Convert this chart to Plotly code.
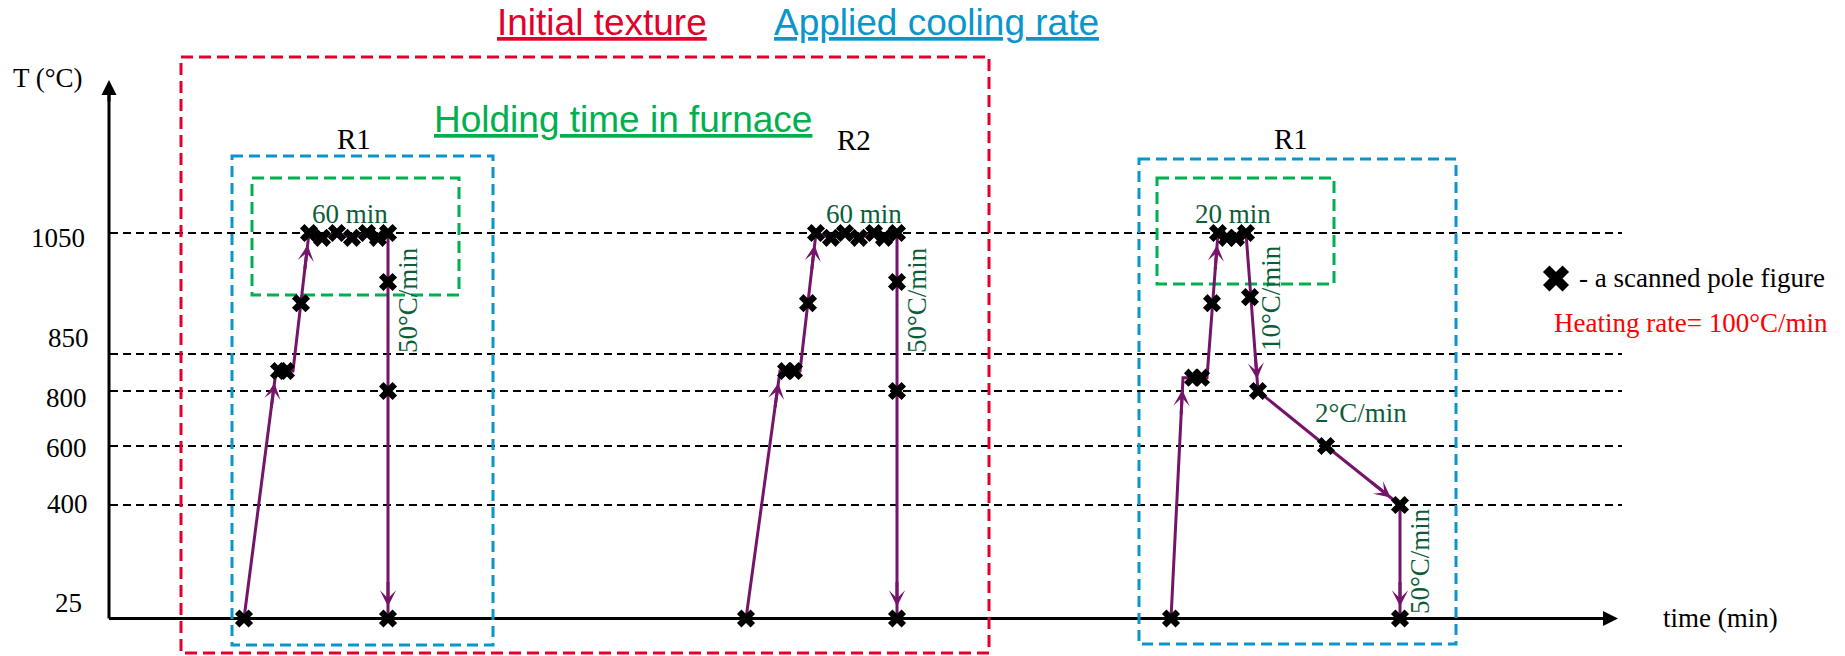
import numpy as np
import plotly.graph_objects as go

# ---------------- data ----------------
# labelled temperature levels of the schematic T axis (°C)
temp_levels = [25, 400, 600, 800, 850, 1050]
temp_tick_labels = ["25", "400", "600", "800", "850", "1050"]

run_names = ["R1", "R2", "R1"]
hold_labels = ["60 min", "60 min", "20 min"]

# run 1 (R1, 60 min hold, 50°C/min) : schematic time vs temperature
r1a_path_time = [135, 167, 184, 200, 213, 228, 243, 258, 269, 279, 279]
r1a_path_temp = [25, 827, 827, 1050, 1042, 1050, 1042, 1050, 1042, 1050, 25]
r1a_scan_time = [135, 170, 177, 192, 200, 213, 228, 243, 258, 269, 279, 279, 279, 279]
r1a_scan_temp = [25, 827, 827, 934, 1050, 1042, 1050, 1042, 1050, 1042, 1050, 969, 800, 25]

# run 2 (R2, 60 min hold, 50°C/min)
r2_path_time = [637, 671, 691, 707, 722, 736, 750, 765, 775, 788, 788]
r2_path_temp = [25, 827, 827, 1050, 1042, 1050, 1042, 1050, 1042, 1050, 25]
r2_scan_time = [637, 677, 685, 699, 707, 722, 736, 750, 765, 775, 788, 788, 788, 788]
r2_scan_temp = [25, 827, 827, 934, 1050, 1042, 1050, 1042, 1050, 1042, 1050, 969, 800, 25]

# run 3 (R1, 20 min hold, 10 -> 2 -> 50 °C/min)
r1b_path_time = [1062, 1074, 1098, 1109, 1118, 1127, 1137, 1149, 1217, 1291, 1291]
r1b_path_temp = [25, 818, 818, 1050, 1042, 1042, 1050, 800, 600, 400, 25]
r1b_scan_time = [1062, 1084, 1092, 1103, 1109, 1118, 1127, 1137, 1141, 1149, 1217, 1291, 1291]
r1b_scan_temp = [25, 818, 818, 934, 1050, 1042, 1042, 1050, 944, 800, 600, 400, 25]

# segments (index of their end point) that carry an arrow head
r1a_arrow_ends = [1, 3, 10]
r2_arrow_ends = [1, 3, 10]
r1b_arrow_ends = [1, 3, 7, 9, 10]

rate_labels = ["50°C/min", "50°C/min", "10°C/min", "2°C/min", "50°C/min"]

# ---------------- layout helpers ----------------
W, H = 1845, 656
X0, Y0 = 109, 618.5                      # pixel position of the axes origin
level_px = [618.5, 505, 446, 391, 354, 233]   # schematic height of each labelled level
level_h = [Y0 - p for p in level_px]


def sy(T):
    return np.interp(T, temp_levels, level_h)


def px(x):
    return x - X0


def py(y):
    return Y0 - y


PURPLE = "#74156A"
DKGREEN = "#0D5E38"
RED = "#E3002C"
BLUE = "#0A96CB"
GREEN = "#00B04F"
SERIF = "Liberation Serif, Times New Roman, serif"
SANS = "Liberation Sans, Arial, sans-serif"

fig = go.Figure()

runs = [
    (r1a_path_time, r1a_path_temp, r1a_scan_time, r1a_scan_temp, r1a_arrow_ends),
    (r2_path_time, r2_path_temp, r2_scan_time, r2_scan_temp, r2_arrow_ends),
    (r1b_path_time, r1b_path_temp, r1b_scan_time, r1b_scan_temp, r1b_arrow_ends),
]

annotations = []
for pt, pT, st, sT, ends in runs:
    fig.add_trace(go.Scatter(x=pt, y=sy(pT), mode="lines",
                             line=dict(color=PURPLE, width=3),
                             showlegend=False, hoverinfo="skip"))
for pt, pT, st, sT, ends in runs:
    fig.add_trace(go.Scatter(x=st, y=sy(sT), mode="markers",
                             marker=dict(symbol="x", size=16, color="black"),
                             showlegend=False, hoverinfo="skip"))
    # arrow heads
    ys = sy(pT)
    for i in ends:
        x1, y1 = pt[i], ys[i]
        x0, y0 = pt[i - 1], ys[i - 1]
        L = np.hypot(x1 - x0, y1 - y0)
        ux, uy = (x1 - x0) / L, (y1 - y0) / L
        ex, ey = x1 - 12 * ux, y1 - 12 * uy
        tx, ty = ex - 26 * ux, ey - 26 * uy
        annotations.append(dict(x=ex, y=ey, ax=tx, ay=ty, xref="x", yref="y",
                                axref="x", ayref="y", text="", showarrow=True,
                                arrowhead=3, arrowsize=0.9, arrowwidth=3,
                                arrowcolor=PURPLE, standoff=0, startstandoff=0))

# legend sample marker
fig.add_trace(go.Scatter(x=[px(1556)], y=[py(278.5)], mode="markers",
                         marker=dict(symbol="x", size=23, color="black"),
                         showlegend=False, hoverinfo="skip"))

shapes = []
# dashed temperature levels
for T in temp_levels[1:]:
    shapes.append(dict(type="line", xref="x", yref="y", x0=px(110), x1=px(1622),
                       y0=sy(T), y1=sy(T), layer="below",
                       line=dict(color="black", width=1.8, dash="8px,5px")))
# axes
shapes.append(dict(type="line", xref="x", yref="y", x0=px(109), x1=px(1610),
                   y0=sy(25), y1=sy(25), layer="below", line=dict(color="black", width=3)))
shapes.append(dict(type="line", xref="x", yref="y", x0=px(109), x1=px(109),
                   y0=sy(25), y1=py(88), layer="below", line=dict(color="black", width=3)))
annotations.append(dict(x=px(1618), y=sy(25), ax=px(1595), ay=sy(25), xref="x", yref="y",
                        axref="x", ayref="y", text="", showarrow=True, arrowhead=2,
                        arrowsize=1, arrowwidth=3, arrowcolor="black", standoff=0))
annotations.append(dict(x=px(109), y=py(80), ax=px(109), ay=py(103), xref="x", yref="y",
                        axref="x", ayref="y", text="", showarrow=True, arrowhead=2,
                        arrowsize=1, arrowwidth=3, arrowcolor="black", standoff=0))


def rect(x0, y0, x1, y1, color, dash):
    shapes.append(dict(type="rect", xref="x", yref="y", x0=px(x0), x1=px(x1),
                       y0=py(y0), y1=py(y1), layer="below",
                       line=dict(color=color, width=3, dash=dash)))


rect(181, 57, 989, 653, RED, "12px,6px")
rect(232, 156, 493, 645, BLUE, "11px,6px")
rect(252, 178, 459, 295, GREEN, "12px,6px")
rect(1139, 159, 1456, 644, BLUE, "11px,6px")
rect(1157, 178, 1334, 284, GREEN, "12px,6px")


def txt(text, x, y, size=27, color="black", family=SERIF, xanchor="center",
        angle=0, under=False):
    f = dict(family=family, size=size, color=color)
    if under:
        f["lineposition"] = "under"
    annotations.append(dict(text=text, x=px(x), y=py(y), xref="x", yref="y",
                            showarrow=False, xanchor=xanchor, yanchor="middle",
                            textangle=angle, font=f))


# titles
txt("Initial texture", 601.5, 22, size=37, color=RED, family=SANS, under=True)
txt("Applied cooling rate", 936, 22, size=37, color=BLUE, family=SANS, under=True)
txt("Holding time in furnace", 622.5, 119, size=37, color=GREEN, family=SANS, under=True)

# axis texts
txt("T (°C)", 47.5, 78)
txt("time (min)", 1720, 618)
label_right = [84, 90, 89, 89, 91, 87]
label_y = [603, 504, 448, 398, 338, 238]
for lab, xr, yy in zip(temp_tick_labels, label_right, label_y):
    txt(lab, xr, yy, xanchor="right")

# run names and holding times
for name, (x, y) in zip(run_names, [(353.5, 139), (854, 140), (1291, 139)]):
    txt(name, x, y, size=29)
for lab, (x, y) in zip(hold_labels, [(349.5, 214), (864, 214), (1233, 214)]):
    txt(lab, x, y, color=DKGREEN)

# cooling-rate labels
rate_pos = [(408, 300, -90), (917, 300, -90), (1271, 298, -90), (1361, 413, 0), (1420, 561, -90)]
for lab, (x, y, a) in zip(rate_labels, rate_pos):
    txt(lab, x, y, color=DKGREEN, angle=a)

# legend texts
txt("- a scanned pole figure", 1577, 278, xanchor="left")
txt("Heating rate= 100°C/min", 1830, 323, color="#FF0000", xanchor="right")

fig.update_layout(
    width=W, height=H,
    margin=dict(l=0, r=0, t=0, b=0),
    paper_bgcolor="white", plot_bgcolor="white",
    xaxis=dict(range=[px(0), px(W)], visible=False, fixedrange=True),
    yaxis=dict(range=[py(H), py(0)], visible=False, fixedrange=True),
    shapes=shapes, annotations=annotations, showlegend=False,
)

fig.write_html(
    "out.html",
    config={"displayModeBar": False},
    post_script="document.body.style.margin='0px';document.body.style.padding='0px';"
                "document.body.style.overflow='hidden';",
)
